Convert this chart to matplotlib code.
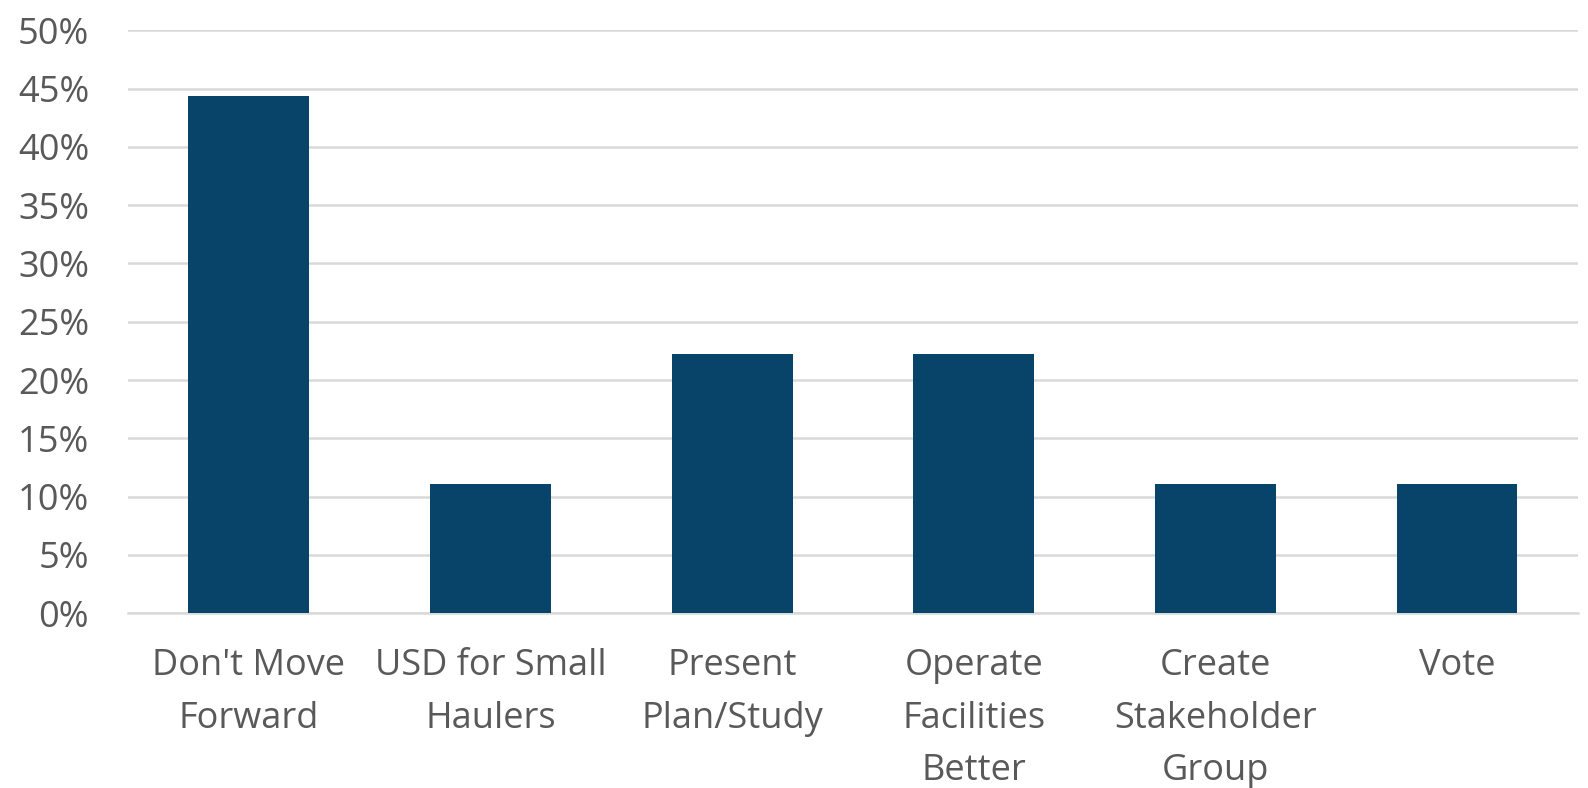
import matplotlib
matplotlib.use("Agg")
import matplotlib.pyplot as plt
from matplotlib.ticker import PercentFormatter

CATEGORIES = ["Don't Move\nForward", "USD for Small\nHaulers", "Present\nPlan/Study",
              "Operate\nFacilities\nBetter", "Create\nStakeholder\nGroup", "Vote"]
VALUES = [0.444, 0.111, 0.222, 0.222, 0.111, 0.111]
YTICKS = [0, 0.05, 0.10, 0.15, 0.20, 0.25, 0.30, 0.35, 0.40, 0.45, 0.50]

plt.rcParams["font.family"] = ["Open Sans", "DejaVu Sans"]
TXT = "#595959"

fig = plt.figure(figsize=(15.88, 7.88), dpi=100)
ax = fig.add_axes([0.0806, 0.222, 0.913, 0.7394])

x = range(len(CATEGORIES))
ax.bar(x, VALUES, width=0.5, color="#08436A", zorder=3)

ax.set_xlim(-0.5, len(CATEGORIES) - 0.5)
ax.set_ylim(0, 0.5)
ax.set_yticks(YTICKS)
ax.yaxis.set_major_formatter(PercentFormatter(1.0, decimals=0))
ax.set_xticks(list(x))
ax.set_xticklabels(CATEGORIES, linespacing=1.62, va="top")

ax.grid(axis="y", color="#D9D9D9", linewidth=1.8, zorder=0)
for s in ["top", "right", "left"]:
    ax.spines[s].set_visible(False)
ax.spines["bottom"].set_color("#D9D9D9")
ax.spines["bottom"].set_linewidth(1.8)
ax.tick_params(axis="both", length=0, labelsize=26, colors=TXT)
ax.tick_params(axis="x", pad=25)
ax.tick_params(axis="y", pad=28)

fig.savefig("out.png", dpi=100)
